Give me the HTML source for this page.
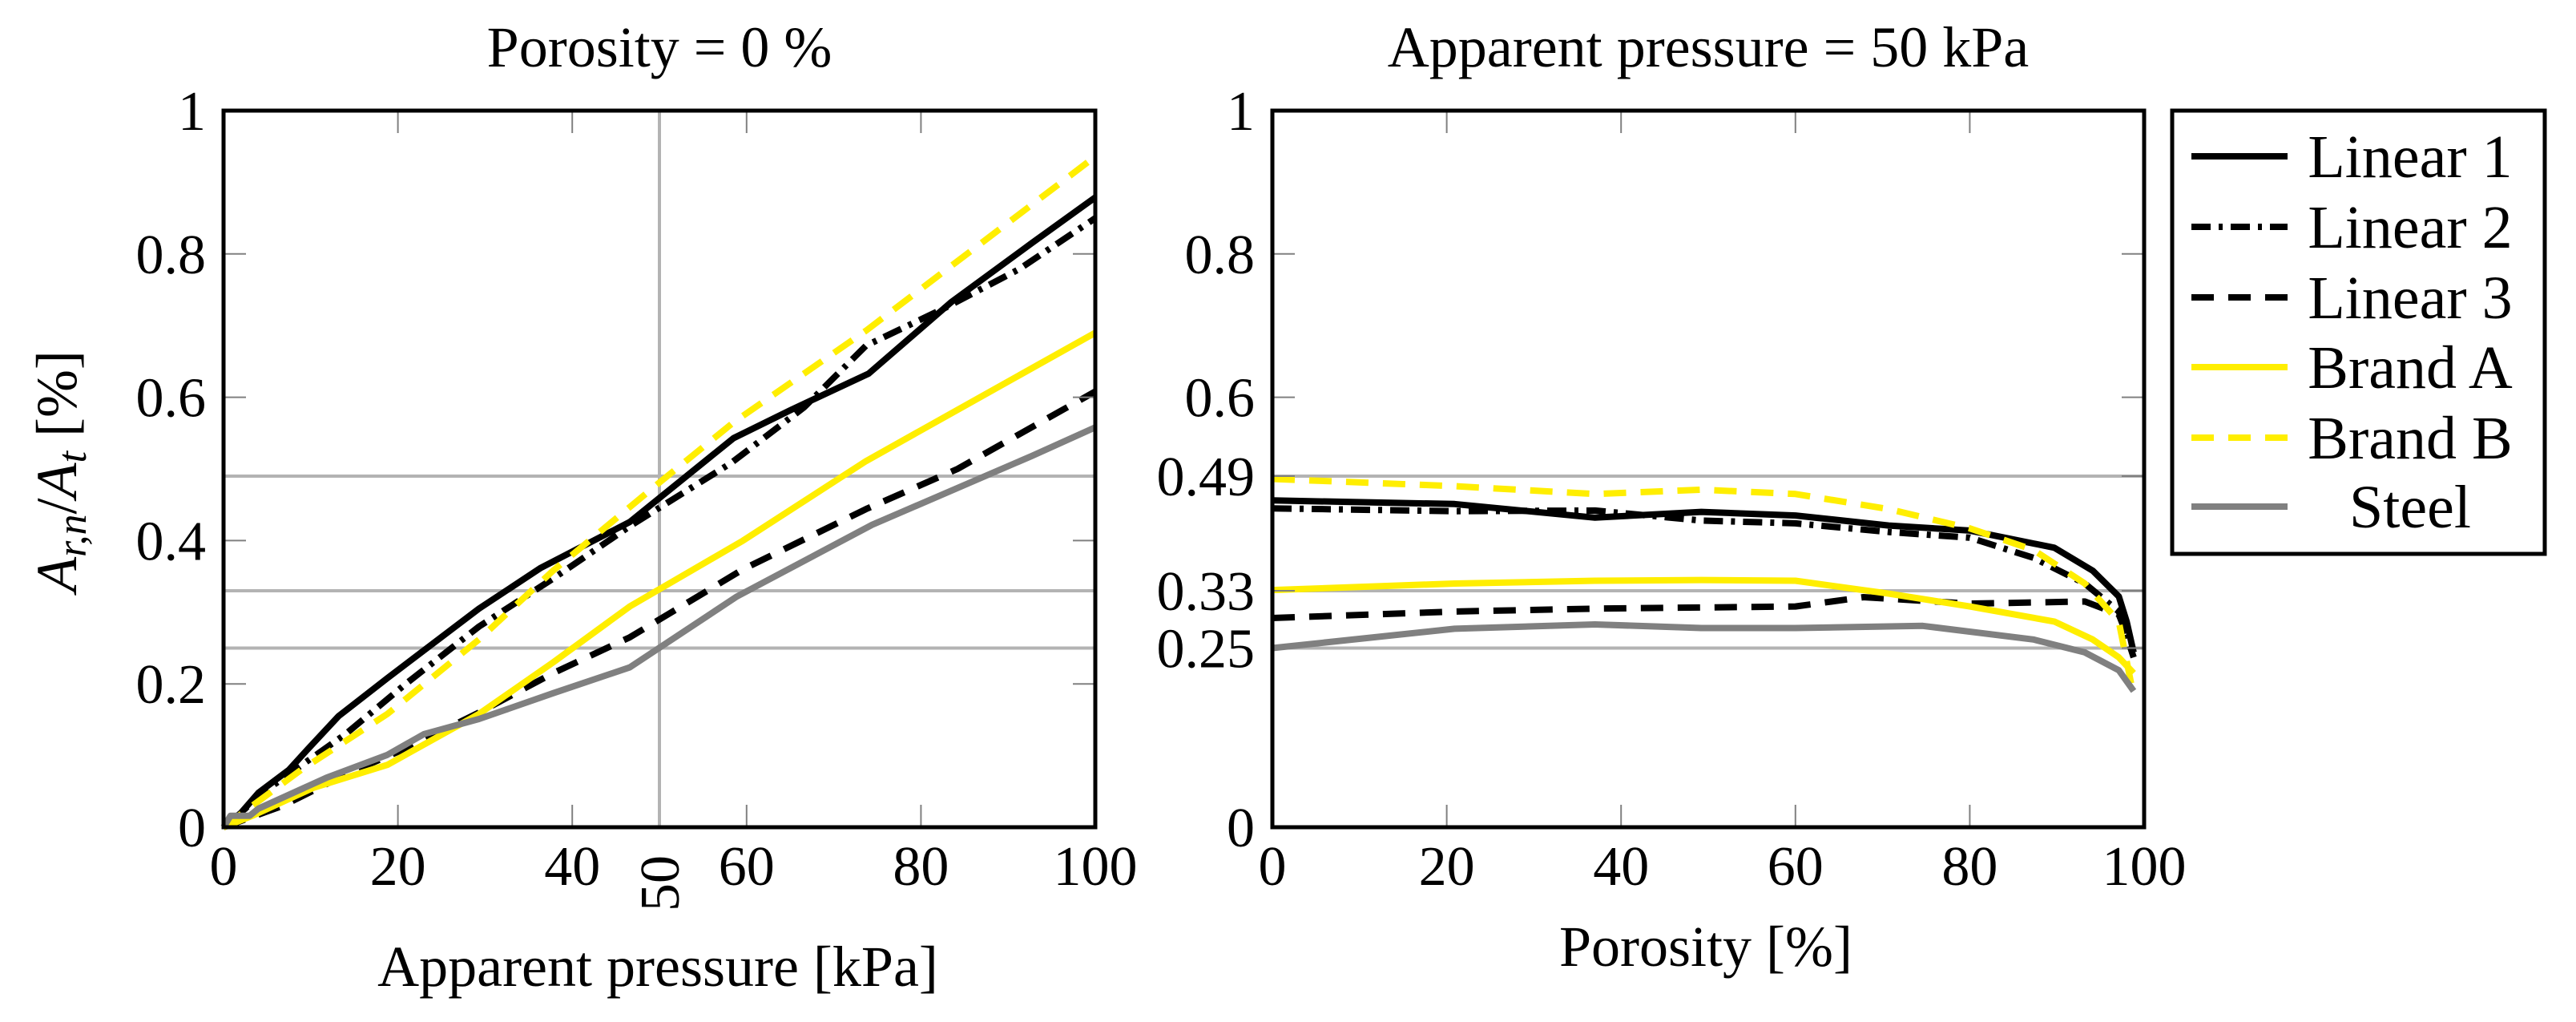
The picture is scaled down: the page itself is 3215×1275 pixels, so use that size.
<!DOCTYPE html>
<html><head><meta charset="utf-8"><style>
html,body{margin:0;padding:0;background:#fff;}
svg{display:block;font-family:"Liberation Serif",serif;}
</style></head><body>
<svg id="chart" width="3215" height="1275" viewBox="0 0 3215 1275" xmlns="http://www.w3.org/2000/svg">
<g id="grid"></g><g id="lines"></g><g id="axes"></g>
</svg>
<script>
// ---- data ----
const seriesNames = ["Linear 1","Linear 2","Linear 3","Brand A","Brand B","Steel"];
// left plot: apparent pressure [kPa]
const L1x=[0,2,4,7.5,9.6,13.2,18.8,29.3,36.4,46.6,58.5,65.2,74,83.5,92.7,100];
const L1y=[0,0.02,0.048,0.08,0.108,0.155,0.208,0.305,0.362,0.426,0.543,0.583,0.633,0.733,0.815,0.879];
const L2x=[0,2,4,14,20.9,29.3,37.8,46.6,58.2,66.6,73.7,82.8,91.3,100];
const L2y=[0,0.02,0.044,0.13,0.2,0.28,0.347,0.42,0.508,0.586,0.672,0.725,0.779,0.85];
const L3x=[0,6.8,13.9,20.9,29.3,37.8,46.6,59.6,73.7,84.2,100];
const L3y=[0,0.03,0.073,0.11,0.16,0.215,0.265,0.36,0.444,0.5,0.608];
const BAx=[0,3.3,10.3,18.8,29.3,37.8,46.6,59.6,73.7,100];
const BAy=[0,0.016,0.055,0.087,0.158,0.23,0.308,0.4,0.511,0.69];
const BBx=[0,3.3,8.9,18.8,29.3,37.8,49.8,58.5,73.7,100];
const BBy=[0,0.03,0.08,0.158,0.262,0.358,0.479,0.565,0.693,0.936];
const STx=[0,0.8,3,4,11.8,18.8,23,29.3,37.8,46.6,58.9,74.4,92.7,100];
const STy=[0,0.016,0.016,0.026,0.069,0.101,0.13,0.151,0.187,0.223,0.322,0.422,0.518,0.558];
// right plot: porosity [%]
const R1x=[0,20.9,37,49.2,60,70.7,80,89.7,94.1,97.1,98,98.8];
const R1y=[0.456,0.451,0.432,0.44,0.435,0.421,0.414,0.39,0.358,0.322,0.287,0.244];
const R2x=[0,20.9,37,49.2,60,70.7,80,87.3,93.2,97.1,98.8];
const R2y=[0.445,0.441,0.442,0.428,0.424,0.412,0.404,0.376,0.34,0.301,0.237];
const R3x=[0,20.9,37,60,67.8,80,93.2,97.1,98.8];
const R3y=[0.292,0.301,0.305,0.308,0.321,0.312,0.315,0.297,0.244];
const RAx=[0,20.9,37,49.2,60,70.7,80,89.7,94.1,97.1,98.8];
const RAy=[0.331,0.34,0.344,0.345,0.344,0.326,0.308,0.287,0.262,0.237,0.215];
const RBx=[0,20.9,37,49.2,60,70.7,80,87.3,93.2,97.1,98.8];
const RBy=[0.486,0.476,0.465,0.471,0.465,0.444,0.417,0.387,0.34,0.287,0.183];
const RSx=[0,20.9,37,49.2,60,74.6,87.3,93.2,97.1,98.8];
const RSy=[0.25,0.277,0.283,0.278,0.278,0.281,0.262,0.244,0.219,0.19];
const xTicks=[0,20,40,60,80,100];
const yTicksLeft=[0,0.2,0.4,0.6,0.8,1];
const yTicksRight=[0,0.25,0.33,0.49,0.6,0.8,1];
const yTickLabelsRight=["0","0.25","0.33","0.49","0.6","0.8","1"];
const hGrid=[0.25,0.33,0.49];

// ---- layout ----
const NS="http://www.w3.org/2000/svg";
const svg=document.getElementById('chart');
const gGrid=document.getElementById('grid'),gLines=document.getElementById('lines'),gAxes=document.getElementById('axes');
const P1={x0:279,x1:1367,y0:1032,y1:138};
const P2={x0:1588,x1:2676,y0:1032,y1:138};
function sx(p,v){return p.x0+(p.x1-p.x0)*v/100;}
function sy(p,v){return p.y0+(p.y1-p.y0)*v;}
function el(tag,attrs,parent,txt){const e=document.createElementNS(NS,tag);for(const k in attrs)e.setAttribute(k,attrs[k]);if(txt!==undefined)e.textContent=txt;parent.appendChild(e);return e;}
const styles=[
 {c:"#000",d:""},{c:"#000",d:"24 10 5 10"},{c:"#000",d:"28 18"},
 {c:"#ffee00",d:""},{c:"#ffee00",d:"28 18"},{c:"#808080",d:""}];
const leftData=[[L1x,L1y],[L2x,L2y],[L3x,L3y],[BAx,BAy],[BBx,BBy],[STx,STy]];
const rightData=[[R1x,R1y],[R2x,R2y],[R3x,R3y],[RAx,RAy],[RBx,RBy],[RSx,RSy]];
const keys=["linear-1","linear-2","linear-3","brand-a","brand-b","steel"];

function panel(p,data,yt,ytl,name,vgrid){
  hGrid.forEach(v=>{const l=el('line',{x1:p.x0,x2:p.x1,y1:sy(p,v),y2:sy(p,v),stroke:"#b3b3b3","stroke-width":4},gGrid);
    
    });
  if(vgrid!==undefined){const l=el('line',{x1:sx(p,vgrid),x2:sx(p,vgrid),y1:p.y0,y2:p.y1,stroke:"#b3b3b3","stroke-width":4},gGrid);
    
    
    const t=el('text',{x:0,y:0,"font-size":70,"text-anchor":"middle",transform:`translate(${sx(p,vgrid)+24},1102) rotate(-90)`},gAxes,"50");
    
    }
  data.forEach((s,i)=>{const pts=s[0].map((x,j)=>sx(p,x).toFixed(1)+','+sy(p,s[1][j]).toFixed(1)).join(' ');
    const pl=el('polyline',{points:pts,fill:"none",stroke:styles[i].c,"stroke-width":8,"stroke-dasharray":styles[i].d,"stroke-linejoin":"round"},gLines);
    
    });
  xTicks.forEach(v=>{const x=sx(p,v);
    el('line',{x1:x,x2:x,y1:p.y0,y2:p.y0-28,stroke:"#808080","stroke-width":2},gAxes);
    el('line',{x1:x,x2:x,y1:p.y1,y2:p.y1+28,stroke:"#808080","stroke-width":2},gAxes);
    const t=el('text',{x:x,y:1104,"font-size":70,"text-anchor":"middle"},gAxes,String(v));
    
    });
  yt.forEach((v,i)=>{const y=sy(p,v);
    el('line',{x1:p.x0,x2:p.x0+28,y1:y,y2:y,stroke:"#808080","stroke-width":2},gAxes);
    el('line',{x1:p.x1,x2:p.x1-28,y1:y,y2:y,stroke:"#808080","stroke-width":2},gAxes);
    const t=el('text',{x:p.x0-22,y:y+24,"font-size":70,"text-anchor":"end"},gAxes,ytl[i]);
    
    });
  const f=el('rect',{x:p.x0,y:p.y1,width:p.x1-p.x0,height:p.y0-p.y1,fill:"none",stroke:"#000","stroke-width":5},gAxes);
  
  
}
panel(P1,leftData,yTicksLeft,yTicksLeft.map(String),"left-plot",50);
panel(P2,rightData,yTicksRight,yTickLabelsRight,"right-plot");

// legend
const lb=el('rect',{x:2711,y:138,width:465,height:553,fill:"#fff",stroke:"#000","stroke-width":5},gAxes);


const legY=[195,283,371,458,546,632];
seriesNames.forEach((n,i)=>{
  const l=el('line',{x1:2735,x2:2855,y1:legY[i],y2:legY[i],stroke:styles[i].c,"stroke-width":8,"stroke-dasharray":styles[i].d},gAxes);
  
  
  const t=el('text',{x:3008,y:legY[i]+26,"font-size":76,"text-anchor":"middle"},gAxes,n);
  
  
});
</script>
<script>
const s2=document.getElementById('chart');
function T(x,y,txt,name,extra){const t=document.createElementNS("http://www.w3.org/2000/svg",'text');
 t.setAttribute('x',x);t.setAttribute('y',y);t.setAttribute('font-size',72);t.setAttribute('text-anchor','middle');
 if(extra)for(const k in extra)t.setAttribute(k,extra[k]);
 t.innerHTML=txt;
 
 
 s2.appendChild(t);}
T(823,83,"Porosity = 0 %","left-title");
T(2132,83,"Apparent pressure = 50 kPa","right-title");
T(821,1230,"Apparent pressure [kPa]","left-x-axis-title");
T(2129,1205,"Porosity [%]","right-x-axis-title");
T(0,0,'<tspan font-style="italic">A</tspan><tspan font-style="italic" font-size="52" dy="12">r,n</tspan><tspan dy="-12">/</tspan><tspan font-style="italic">A</tspan><tspan font-style="italic" font-size="52" dy="12">t</tspan><tspan dy="-12"> [%]</tspan>',"y-axis-title",{transform:"translate(95,588) rotate(-90)"});
</script>
</body></html>
